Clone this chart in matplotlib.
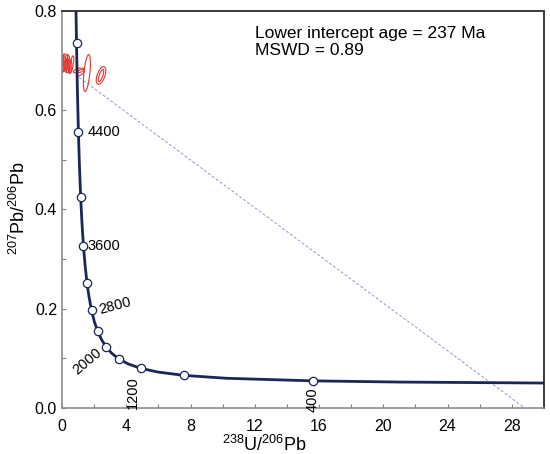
import matplotlib.pyplot as plt
from matplotlib.patches import Ellipse
from matplotlib.ticker import MultipleLocator
from matplotlib.transforms import Affine2D

plt.rcParams['font.family'] = ['Liberation Sans', 'DejaVu Sans']
plt.rcParams['mathtext.fontset'] = 'custom'
plt.rcParams['mathtext.rm'] = 'Liberation Sans'
plt.rcParams['mathtext.it'] = 'Liberation Sans:italic'

# Concordia curve (238U/206Pb, 207Pb/206Pb)
curve_x = [0.866, 0.904, 0.960, 1.022, 1.089, 1.163, 1.245, 1.337, 1.440,
           1.556, 1.688, 1.838, 2.013, 2.217, 2.459, 2.749, 3.105, 3.549,
           4.123, 4.888, 5.959, 7.568, 10.25, 15.62, 20.99, 30.0]
curve_y = [0.816, 0.735, 0.639, 0.557, 0.486, 0.425, 0.372, 0.326, 0.287,
           0.252, 0.223, 0.197, 0.174, 0.155, 0.138, 0.123, 0.110, 0.0987,
           0.0888, 0.0801, 0.0725, 0.0658, 0.0599, 0.0547, 0.0523, 0.0503]

# Age markers every 400 Ma
marker_age = [4800, 4400, 4000, 3600, 3200, 2800, 2400, 2000, 1600, 1200,
              800, 400]
marker_x = [0.904, 1.022, 1.163, 1.337, 1.556, 1.838, 2.217, 2.749, 3.549,
            4.888, 7.568, 15.62]
marker_y = [0.735, 0.557, 0.425, 0.326, 0.252, 0.197, 0.155, 0.123, 0.0987,
            0.0801, 0.0658, 0.0547]

# Labelled ages: (text, x, y, rotation)
label_text = ['4400', '3600', '2800', '2000', '1200', '400']
label_x = [1.6, 1.6, 3.3, 1.6, 4.4, 15.6]
label_y = [0.557, 0.327, 0.206, 0.093, 0.032, 0.016]
label_rot = [0, 0, 15, 40, 90, 90]

# Discordia line
disc_x = [1.08, 28.8]
disc_y = [0.666, 0.0]

# Error ellipses: centre x, centre y, major / minor (in x units), angle (deg on screen)
ell_cx = [0.04, 0.12, 0.20, 0.27, 0.34, 0.42, 0.50, 0.60, 1.05, 1.15, 1.55, 2.43, 2.43]
ell_cy = [0.694, 0.696, 0.692, 0.697, 0.690, 0.694, 0.688, 0.692, 0.680, 0.676, 0.675, 0.670, 0.670]
ell_major = [1.05, 1.10, 0.95, 1.00, 0.90, 1.05, 0.85, 1.10, 0.70, 0.56, 2.30, 1.15, 0.78]
ell_minor = [0.20, 0.18, 0.22, 0.16, 0.20, 0.18, 0.22, 0.20, 0.26, 0.30, 0.37, 0.48, 0.22]
ell_ang = [92, 88, 95, 86, 90, 93, 87, 80, 15, 35, 84, 70, 70]

# ratio of pixels per y unit to pixels per x unit on this axes
Y_STRETCH = 495.0 / 16.07


def main():
    fig = plt.figure(figsize=(5.5, 4.54), dpi=100)
    ax = fig.add_axes([0.1127, 0.1013, 0.8764, 0.8745])

    iso = Affine2D().scale(1.0, 1.0 / Y_STRETCH) + ax.transData
    for cx, cy, a, b, ang in zip(ell_cx, ell_cy, ell_major, ell_minor, ell_ang):
        ax.add_patch(Ellipse((cx, cy * Y_STRETCH), a, b, angle=ang,
                             fill=False, edgecolor='#e8342c', linewidth=0.8,
                             transform=iso, zorder=2))

    ax.plot(disc_x, disc_y, color='#8a9ccc', linestyle=(0, (3, 2)),
            linewidth=0.7, zorder=1)

    ax.plot(curve_x, curve_y, color='#1b2557', linewidth=2.0, zorder=3)
    ax.plot(marker_x, marker_y, 'o', markersize=6, markerfacecolor='white',
            markeredgecolor='#1b2557', markeredgewidth=0.9, zorder=4)

    for t, x, y, r in zip(label_text, label_x, label_y, label_rot):
        ha = 'left' if r == 0 else 'center'
        ax.text(x, y, t, rotation=r, ha=ha, va='center', fontsize=10.5,
                zorder=5)

    ax.text(0.400, 0.962, 'Lower intercept age = 237 Ma\nMSWD = 0.89',
            transform=ax.transAxes, ha='left', va='top', fontsize=12.5,
            linespacing=1.2)

    ax.set_xlim(0, 30)
    ax.set_ylim(0, 0.8)
    ax.xaxis.set_major_locator(MultipleLocator(4))
    ax.xaxis.set_minor_locator(MultipleLocator(2))
    ax.yaxis.set_major_locator(MultipleLocator(0.2))
    ax.yaxis.set_minor_locator(MultipleLocator(0.1))
    ax.yaxis.set_major_formatter('{x:.1f}')
    ax.tick_params(which='both', direction='in', length=3, width=0.8,
                   color='#808080', labelsize=11.5)
    ax.tick_params(axis='x', pad=8)

    for side in ('left', 'bottom'):
        ax.spines[side].set_color('#8c8c8c')
        ax.spines[side].set_linewidth(1.2)
    for side in ('top', 'right'):
        ax.spines[side].set_color('#3a3a3a')
        ax.spines[side].set_linewidth(1.4)

    ax.set_xlabel('$^{238}$U/$^{206}$Pb', fontsize=13)
    ax.set_ylabel('$^{207}$Pb/$^{206}$Pb', fontsize=13)
    ax.xaxis.set_label_coords(0.419, -0.068)
    ax.yaxis.set_label_coords(-0.069, 0.504)

    fig.savefig('out.png', dpi=100)


if __name__ == "__main__":
    main()
